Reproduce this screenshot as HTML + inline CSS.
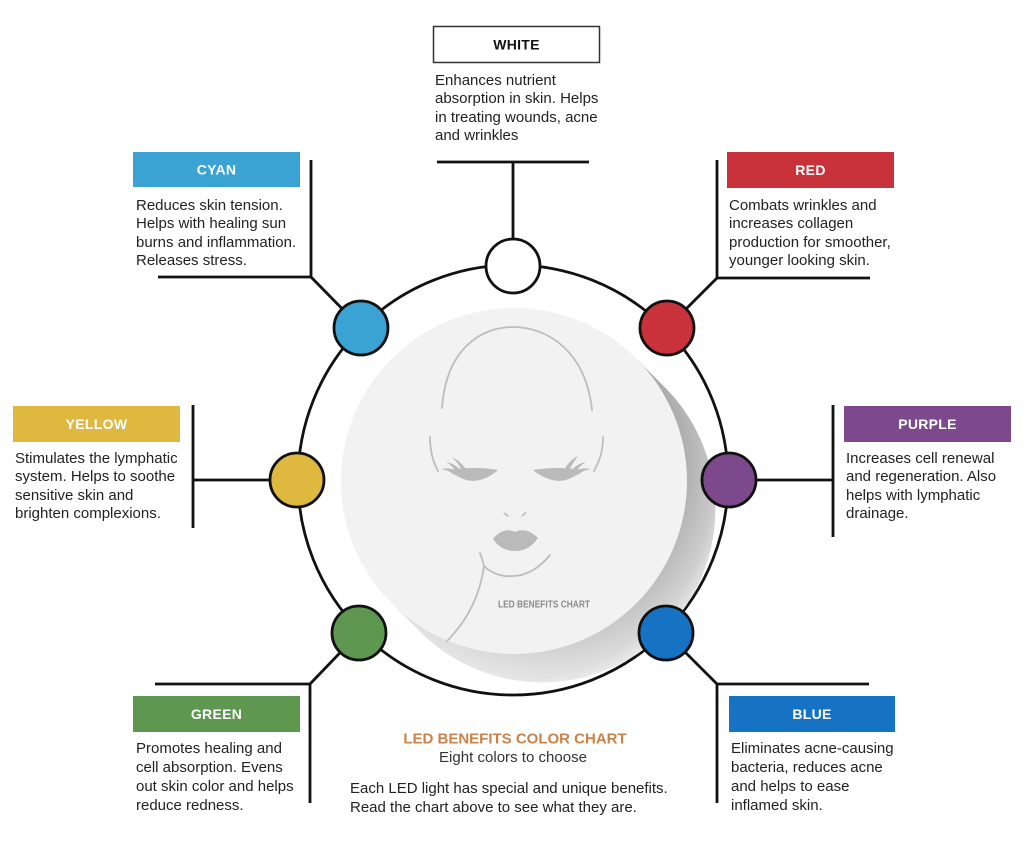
<!DOCTYPE html>
<html>
<head>
<meta charset="utf-8">
<style>
  html,body{margin:0;padding:0;background:#fff;}
  body{width:1024px;height:844px;overflow:hidden;}
  svg{display:block;}
  .d{font-family:"Liberation Sans",sans-serif;font-size:15px;fill:#222;}
  .lb{font-family:"Liberation Sans",sans-serif;font-size:14px;font-weight:bold;fill:#fff;letter-spacing:0.3px;}
</style>
</head>
<body>
<svg width="1024" height="844" viewBox="0 0 1024 844" xmlns="http://www.w3.org/2000/svg">
  <defs>
    <linearGradient id="shLin" gradientUnits="userSpaceOnUse" x1="700" y1="400" x2="450" y2="670">
      <stop offset="0" stop-color="#a9a9a9"/>
      <stop offset="0.5" stop-color="#c2c2c2"/>
      <stop offset="1" stop-color="#e2e2e2"/>
    </linearGradient>
    <radialGradient id="shFade" gradientUnits="userSpaceOnUse" cx="514" cy="481" r="222">
      <stop offset="0" stop-color="#fff" stop-opacity="0"/>
      <stop offset="0.78" stop-color="#fff" stop-opacity="0"/>
      <stop offset="0.9" stop-color="#fff" stop-opacity="0.3"/>
      <stop offset="1" stop-color="#fff" stop-opacity="0.8"/>
    </radialGradient>
  </defs>

  <!-- connector lines -->
  <g stroke="#111" stroke-width="2.8" fill="none" stroke-linecap="butt">
    <line x1="437" y1="162" x2="589" y2="162"/>
    <line x1="513" y1="162" x2="513" y2="240"/>
    <line x1="311" y1="160" x2="311" y2="278"/>
    <line x1="158" y1="277" x2="312" y2="277"/>
    <line x1="311" y1="277" x2="361" y2="328"/>
    <line x1="717" y1="160" x2="717" y2="279"/>
    <line x1="716" y1="278" x2="870" y2="278"/>
    <line x1="717" y1="278" x2="667" y2="328"/>
    <line x1="193" y1="405" x2="193" y2="528"/>
    <line x1="193" y1="480" x2="297" y2="480"/>
    <line x1="833" y1="405" x2="833" y2="537"/>
    <line x1="729" y1="480" x2="833" y2="480"/>
    <line x1="155" y1="684" x2="311" y2="684"/>
    <line x1="310" y1="683" x2="310" y2="803"/>
    <line x1="310" y1="684" x2="359" y2="633"/>
    <line x1="716" y1="684" x2="869" y2="684"/>
    <line x1="717" y1="683" x2="717" y2="803"/>
    <line x1="717" y1="684" x2="666" y2="633"/>
  </g>

  <!-- big ring -->
  <circle cx="513" cy="480" r="215" fill="#fff" stroke="#111" stroke-width="2.8"/>

  <!-- shadow -->
  <path d="M636.3,358.7 L667.3,389.7 A173,173 0 0 1 422.7,634.3 L391.7,603.3 Z" fill="url(#shLin)"/>
  <path d="M636.3,358.7 L667.3,389.7 A173,173 0 0 1 422.7,634.3 L391.7,603.3 Z" fill="url(#shFade)"/>
  <!-- disc -->
  <circle cx="514" cy="481" r="173" fill="#f2f2f3"/>

  <!-- face -->
  <g fill="none" stroke="#bdbdbd" stroke-width="1.8" stroke-linecap="round">
    <path d="M442,408 C446,350 480,327 513,327 C548,327 586,352 592,410"/>
    <path d="M430,437 C430,452 433,462 438,471"/>
    <path d="M603,437 C603,452 599,462 594,471"/>
    <path d="M480,553 C482,558 483,562 484,566 C492,574 503,577 513,576 C528,576 541,566 550,555"/>
    <path d="M484,566 C480,595 468,620 447,641"/>
  </g>
  <g fill="#bababa" stroke="none">
    <!-- left eye -->
    <path d="M450,470 Q474,466 498,470 Q487,480 473,481 Q459,480 450,470 Z"/>
    <path d="M446,462 Q456,464 462,472 L458,474 Q454,467 446,462 Z"/>
    <path d="M452,457 Q462,462 467,471 L463,472 Q459,464 452,457 Z"/>
    <path d="M441,469 Q451,467 458,472 L454,475 Q449,470 441,469 Z"/>
    <!-- right eye -->
    <path d="M582,470 Q558,466 533,470 Q545,480 559,481 Q573,480 582,470 Z"/>
    <path d="M586,462 Q576,464 570,472 L574,474 Q578,467 586,462 Z"/>
    <path d="M578,456 Q568,461 564,471 L568,472 Q572,464 578,456 Z"/>
    <path d="M591,469 Q581,467 574,472 L578,475 Q583,470 591,469 Z"/>
    <!-- nose -->
    <path d="M503,512 Q507,513 509,517 Q505,516 503,512 Z"/>
    <path d="M527,511 Q523,513 521,517 Q525,516 527,511 Z"/>
    <!-- lips -->
    <path d="M493,539 C499,531 507,528 515,532 C523,528 531,531 538,538 C531,548 523,551 515,551 C507,551 499,548 493,539 Z"/>
  </g>
  <text x="544" y="607.5" text-anchor="middle" font-family="Liberation Sans, sans-serif" font-weight="bold" font-size="10" fill="#8a8a8a" textLength="92" lengthAdjust="spacingAndGlyphs">LED BENEFITS CHART</text>

  <!-- colored nodes -->
  <g stroke="#111" stroke-width="2.8">
    <circle cx="513" cy="266" r="27" fill="#fff"/>
    <circle cx="361" cy="328" r="27" fill="#3ba3d3"/>
    <circle cx="667" cy="328" r="27" fill="#c9323a"/>
    <circle cx="297" cy="480" r="27" fill="#dfb93f"/>
    <circle cx="729" cy="480" r="27" fill="#7c4a8c"/>
    <circle cx="359" cy="633" r="27" fill="#5e9750"/>
    <circle cx="666" cy="633" r="27" fill="#1673c3"/>
  </g>

  <!-- label boxes -->
  <rect x="433.5" y="26.5" width="166" height="36" fill="#fff" stroke="#333" stroke-width="1.5"/>
  <text x="516.5" y="49.5" text-anchor="middle" class="lb" style="fill:#111">WHITE</text>

  <rect x="133" y="152" width="167" height="35" fill="#3ba3d3"/>
  <text x="216.5" y="174.5" text-anchor="middle" class="lb">CYAN</text>

  <rect x="727" y="152" width="167" height="36" fill="#c9323a"/>
  <text x="810.5" y="175" text-anchor="middle" class="lb">RED</text>

  <rect x="13" y="406" width="167" height="36" fill="#dfb93f"/>
  <text x="96.5" y="429" text-anchor="middle" class="lb">YELLOW</text>

  <rect x="844" y="406" width="167" height="36" fill="#7c4a8c"/>
  <text x="927.5" y="429" text-anchor="middle" class="lb">PURPLE</text>

  <rect x="133" y="696" width="167" height="36" fill="#5e9750"/>
  <text x="216.5" y="719" text-anchor="middle" class="lb">GREEN</text>

  <rect x="729" y="696" width="166" height="36" fill="#1673c3"/>
  <text x="812" y="719" text-anchor="middle" class="lb">BLUE</text>

  <!-- descriptions -->
  <g class="d">
    <text x="435" y="85">Enhances nutrient</text>
    <text x="435" y="103">absorption in skin. Helps</text>
    <text x="435" y="122">in treating wounds, acne</text>
    <text x="435" y="140">and wrinkles</text>

    <text x="136" y="210">Reduces skin tension.</text>
    <text x="136" y="228">Helps with healing sun</text>
    <text x="136" y="247">burns and inflammation.</text>
    <text x="136" y="265">Releases stress.</text>

    <text x="729" y="210">Combats wrinkles and</text>
    <text x="729" y="228">increases collagen</text>
    <text x="729" y="247">production for smoother,</text>
    <text x="729" y="265">younger looking skin.</text>

    <text x="15" y="463">Stimulates the lymphatic</text>
    <text x="15" y="481">system. Helps to soothe</text>
    <text x="15" y="500">sensitive skin and</text>
    <text x="15" y="518">brighten complexions.</text>

    <text x="846" y="463">Increases cell renewal</text>
    <text x="846" y="481">and regeneration. Also</text>
    <text x="846" y="500">helps with lymphatic</text>
    <text x="846" y="518">drainage.</text>

    <text x="136" y="753">Promotes healing and</text>
    <text x="136" y="772">cell absorption. Evens</text>
    <text x="136" y="791">out skin color and helps</text>
    <text x="136" y="810">reduce redness.</text>

    <text x="731" y="753">Eliminates acne-causing</text>
    <text x="731" y="772">bacteria, reduces acne</text>
    <text x="731" y="791">and helps to ease</text>
    <text x="731" y="810">inflamed skin.</text>

    <text x="350" y="793">Each LED light has special and unique benefits.</text>
    <text x="350" y="812">Read the chart above to see what they are.</text>
  </g>

  <!-- bottom title -->
  <text x="515" y="743.5" text-anchor="middle" font-family="Liberation Sans, sans-serif" font-weight="bold" font-size="15" fill="#c9834a">LED BENEFITS COLOR CHART</text>
  <text x="513" y="762" text-anchor="middle" font-family="Liberation Sans, sans-serif" font-size="15" fill="#333" textLength="148" lengthAdjust="spacingAndGlyphs">Eight colors to choose</text>
</svg>
</body>
</html>
